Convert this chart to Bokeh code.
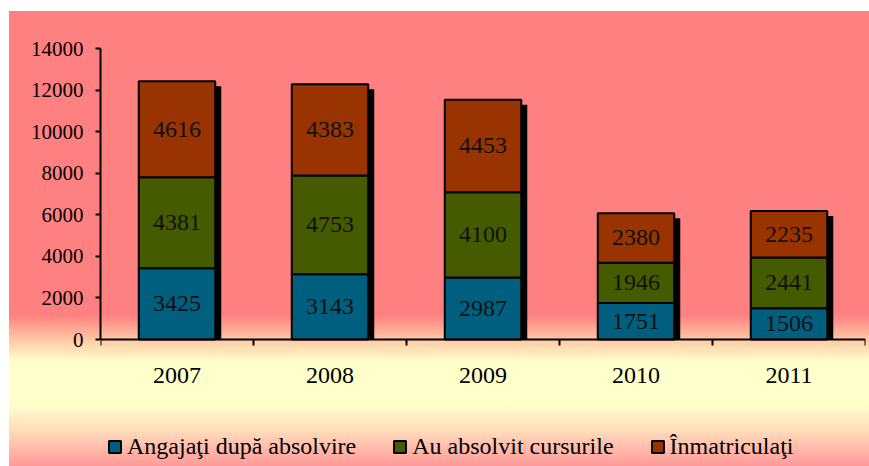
from bokeh.plotting import figure
from bokeh.models import ColumnDataSource, Range1d, FixedTicker, Legend, LegendItem
from bokeh.core.properties import value
from bokeh.embed import file_html
from bokeh.resources import INLINE

# ---- data ----
years = ["2007", "2008", "2009", "2010", "2011"]
angajati = [3425, 3143, 2987, 1751, 1506]
absolvit = [4381, 4753, 4100, 1946, 2441]
inmatriculati = [4616, 4383, 4453, 2380, 2235]
series_names = ["Angajaţi după absolvire", "Au absolvit cursurile", "Înmatriculaţi"]
y_ticks = [0, 2000, 4000, 6000, 8000, 10000, 12000, 14000]

# ---- style / layout (pixels) ----
colors = ["#005F7F", "#465A00", "#993300"]
FONT = "Liberation Serif"
W, H = 869, 466
ML, MT, MR = 100, 48, 4
AXIS_PX = 291                    # pixel height of the 0..14000 span
frame_w = W - ML - MR
below_px = H - MT - AXIS_PX      # space under the value 0 inside the frame
ymax = y_ticks[-1]
ymin = -ymax * below_px / AXIS_PX

xs = [i + 0.5 for i in range(len(years))]
totals = [a + b + c for a, b, c in zip(angajati, absolvit, inmatriculati)]

src = ColumnDataSource(dict(x=xs, a=angajati, b=absolvit, c=inmatriculati))

# shadow offset: 6px right, 5px down
dx = 6 * len(years) / frame_w
dy = 5 * ymax / AXIS_PX
shadow = ColumnDataSource(dict(x=[v + dx for v in xs], top=[t - dy for t in totals]))

p = figure(width=W, height=H, output_backend="svg", toolbar_location=None,
           x_range=Range1d(0, len(years)), y_range=Range1d(ymin, ymax),
           min_border_left=ML, min_border_top=MT, min_border_right=MR, min_border_bottom=0)
p.background_fill_color = None
p.border_fill_color = None
p.outline_line_color = None
p.styles = {"background": "linear-gradient(to right, #ffffff 0px, #ffffff 9px, rgba(255,255,255,0) 9px), "
                          "linear-gradient(to bottom, #ffffff 0px, #ffffff 11px, #FF8080 11px, "
                          "#FF8080 315px, #FFD0A8 342px, #FFFFCC 362px, #FFFFCC 404px, "
                          "#FFDDBB 430px, #FF9A9A 466px)"}
p.xgrid.visible = False
p.ygrid.visible = False

p.vbar(x="x", top="top", bottom=0, width=0.5, source=shadow, fill_color="black", line_color=None)
rs = p.vbar_stack(["a", "b", "c"], x="x", width=0.5, source=src,
                  fill_color=colors, line_color="black", line_width=2)

# value labels
lx, ly, lt = [], [], []
bottoms = [0] * len(years)
for ser in (angajati, absolvit, inmatriculati):
    for i, v in enumerate(ser):
        lx.append(xs[i])
        ly.append(bottoms[i] + v / 2)
        lt.append(str(v))
        bottoms[i] += v
p.text(x="x", y="y", text="t", source=ColumnDataSource(dict(x=lx, y=ly, t=lt)),
       text_align="center", text_baseline="middle", text_font=value(FONT),
       text_font_size="24px", text_color="#111111")

# axes
xa = p.xaxis[0]
xa.fixed_location = 0
xa.ticker = FixedTicker(ticks=xs, minor_ticks=list(range(len(years) + 1)))
xa.major_label_overrides = {x: y for x, y in zip(xs, years)}
xa.major_tick_line_color = None
xa.major_tick_out = 0
xa.major_tick_in = 0
xa.minor_tick_out = 6
xa.minor_tick_in = 0
xa.minor_tick_line_width = 2
xa.minor_tick_line_color = "black"
xa.axis_line_width = 2
xa.axis_line_color = "black"
xa.major_label_standoff = 22
xa.major_label_text_font = FONT
xa.major_label_text_font_size = "24px"
xa.major_label_text_color = "black"

ya = p.yaxis[0]
ya.bounds = (0, ymax)
ya.ticker = FixedTicker(ticks=y_ticks, minor_ticks=[])
ya.major_tick_out = 5
ya.major_tick_in = 0
ya.major_tick_line_width = 2
ya.major_tick_line_color = "black"
ya.minor_tick_line_color = None
ya.axis_line_width = 2
ya.axis_line_color = "black"
ya.major_label_standoff = 12
ya.major_label_text_font = FONT
ya.major_label_text_font_size = "21px"
ya.major_label_text_color = "black"

legend = Legend(items=[LegendItem(label=n, renderers=[r]) for n, r in zip(series_names, rs)],
                orientation="horizontal", location=(7, 6), padding=0, margin=0,
                spacing=36, glyph_width=15, glyph_height=15, label_standoff=5,
                label_text_font=FONT, label_text_font_size="24px", label_text_color="black",
                background_fill_alpha=0, border_line_color=None)
p.add_layout(legend)

open("out.html", "w").write(file_html(p, INLINE))
